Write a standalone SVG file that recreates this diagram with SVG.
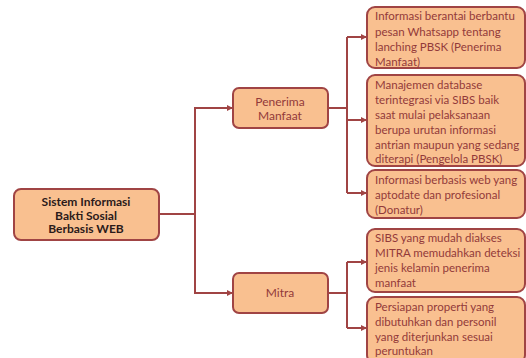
<svg xmlns="http://www.w3.org/2000/svg" width="526" height="358" viewBox="0 0 526 358">
<defs>
<style>
.box{fill:#f9c090;stroke:#a04444;stroke-width:2}
.t{font-family:Lato,"Open Sans",sans-serif;font-size:11.5px;fill:#933a3a}
.c{font-family:Lato,"Open Sans",sans-serif;font-size:12px;fill:#933a3a;text-anchor:middle}
.m{font-family:Lato,"Open Sans",sans-serif;font-size:12px;font-weight:bold;fill:#2b1a1a;text-anchor:middle}
.ln{fill:none;stroke:#a04444;stroke-width:2}
</style>
<marker id="ah" markerWidth="6" markerHeight="6" refX="5" refY="3" orient="auto" markerUnits="userSpaceOnUse">
<path d="M0,0 L6,3 L0,6 Z" fill="#a04444"/>
</marker>
</defs>
<rect width="526" height="358" fill="#ffffff"/>
<g id="connectors">
<path class="ln" d="M159,214 H195 V293 H232" marker-end="url(#ah)"/>
<path class="ln" d="M195,214 V108 H232" marker-end="url(#ah)"/>
<path class="ln" d="M328,108 H347"/>
<path class="ln" d="M347,37 V193"/>
<path class="ln" d="M347,37 H366" marker-end="url(#ah)"/>
<path class="ln" d="M347,120 H366" marker-end="url(#ah)"/>
<path class="ln" d="M347,193 H366" marker-end="url(#ah)"/>
<path class="ln" d="M328,293 H347"/>
<path class="ln" d="M347,262 V328"/>
<path class="ln" d="M347,262 H366" marker-end="url(#ah)"/>
<path class="ln" d="M347,328 H366" marker-end="url(#ah)"/>
</g>
<g id="main">
<rect class="box" x="14" y="189" width="145" height="51" rx="7"/>
<text class="m" x="86" y="206">Sistem Informasi</text>
<text class="m" x="86" y="219.5">Bakti Sosial</text>
<text class="m" x="86" y="233">Berbasis WEB</text>
</g>
<g id="penerima">
<rect class="box" x="233" y="88" width="95" height="40" rx="6"/>
<text class="c" x="280" y="106">Penerima</text>
<text class="c" x="280" y="120">Manfaat</text>
</g>
<g id="mitra">
<rect class="box" x="233" y="273" width="95" height="40" rx="6"/>
<text class="c" x="280" y="297">Mitra</text>
</g>
<g id="b1">
<rect class="box" x="367" y="7" width="158" height="61" rx="8"/>
<text class="t" x="375" y="20">Informasi berantai berbantu</text>
<text class="t" x="375" y="36">pesan Whatsapp  tentang</text>
<text class="t" x="375" y="51">lanching PBSK (Penerima</text>
<text class="t" x="375" y="66">Manfaat)</text>
</g>
<g id="b2">
<rect class="box" x="367" y="75" width="158" height="91" rx="8"/>
<text class="t" x="375" y="89">Manajemen database</text>
<text class="t" x="375" y="104">terintegrasi via SIBS baik</text>
<text class="t" x="375" y="119">saat mulai pelaksanaan</text>
<text class="t" x="375" y="134">berupa urutan informasi</text>
<text class="t" x="375" y="149">antrian maupun yang sedang</text>
<text class="t" x="375" y="163">diterapi (Pengelola PBSK)</text>
</g>
<g id="b3">
<rect class="box" x="367" y="170" width="158" height="48" rx="8"/>
<text class="t" x="375" y="184">Informasi berbasis web yang</text>
<text class="t" x="375" y="199">aptodate dan profesional</text>
<text class="t" x="375" y="214">(Donatur)</text>
</g>
<g id="b4">
<rect class="box" x="367" y="229" width="158" height="63" rx="8"/>
<text class="t" x="375" y="242">SIBS yang mudah diakses</text>
<text class="t" x="375" y="257">MITRA memudahkan deteksi</text>
<text class="t" x="375" y="272">jenis kelamin penerima</text>
<text class="t" x="375" y="287">manfaat</text>
</g>
<g id="b5">
<rect class="box" x="367" y="297" width="158" height="66" rx="8"/>
<text class="t" x="375" y="311">Persiapan properti yang</text>
<text class="t" x="375" y="326">dibutuhkan dan personil</text>
<text class="t" x="375" y="341">yang diterjunkan sesuai</text>
<text class="t" x="375" y="355">peruntukan</text>
</g>
</svg>
